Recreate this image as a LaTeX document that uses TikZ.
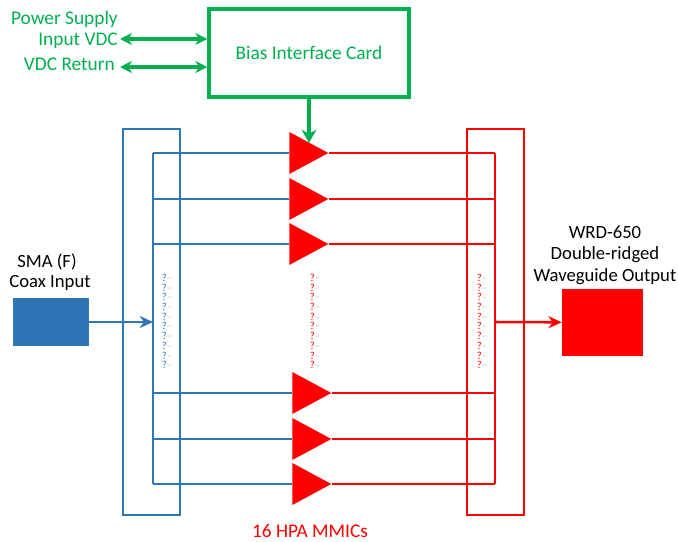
\documentclass[tikz,border=0pt]{standalone}
\usepackage{fontspec}
\setmainfont{Carlito}
\usetikzlibrary{shapes.geometric,arrows.meta}
\definecolor{pagreen}{HTML}{00B050}
\definecolor{pablue}{HTML}{2E75B6}
\tikzset{
  lbl/.style={inner sep=0pt,font=\fontsize{14}{16}\selectfont},
  grn/.style={inner sep=0pt,text=pagreen,font=\fontsize{14.5}{16}\selectfont},
  amp/.style={isosceles triangle,isosceles triangle stretches,shape border rotate=0,fill=red,
    inner sep=0pt,minimum width=31.5pt,minimum height=29.25pt,anchor=apex},
  dots/.style={inner sep=0pt,font=\fontsize{8}{8}\selectfont},
  feed/.style={pablue,line width=1.3pt},
  drive/.style={red,line width=1.3pt},
  pwr/.style={pagreen,line width=2.5pt,{Stealth[length=9pt,width=9pt]}-{Stealth[length=9pt,width=9pt]}}
}
\begin{document}
\begin{tikzpicture}[x=.75pt,y=-.75pt]
\useasboundingbox (0,0) rectangle (678,542);
% bias card
\node (card) at (309,53) [grn,draw=pagreen,line width=2.6pt,minimum width=150pt,minimum height=66pt] {Bias Interface Card};
\node (psu) at (118,19) [grn,anchor=east] {Power Supply};
\node (vdc) at (118,41) [grn,anchor=east] {Input VDC};
\node (ret) at (115,64) [grn,anchor=east] {VDC Return};
\coordinate (vdcend) at (120,39);
\coordinate (retend) at (120,67);
\draw[pwr] (vdcend)--(vdcend-|card.west);
\draw[pwr] (retend)--(retend-|card.west);
% dividers
\node (inbox) at (151.5,322) [draw=pablue,line width=.9pt,minimum width=42.75pt,minimum height=289.5pt,inner sep=0pt] {};
\node (outbox) at (495.5,322) [draw=red,line width=.8pt,minimum width=42.75pt,minimum height=289.5pt,inner sep=0pt] {};
% amplifiers
\foreach \name/\xa/\ya in {a/329/153,b/329/199,c/329/244,d/332/393,e/332/439,f/332/484}{
  \node (\name) at (\xa,\ya) [amp] {};
  \coordinate (in\name) at (153,\ya);
  \coordinate (out\name) at (495,\ya);
  \draw[feed] (in\name)--(\name.lower side);
  \draw[drive] (\name.apex)--(out\name);
}
\draw[feed] (ina)--(inf);
\draw[drive] (outa)--(outf);
\draw[pagreen,line width=3.2pt,-{Stealth[length=10pt,width=11pt]}] (card.south)--(309,143);
% input and output
\node (sma) at (51,322) [fill=pablue,minimum width=57pt,minimum height=36pt,inner sep=0pt] {};
\node (wrd) at (602.5,322.5) [fill=red,minimum width=60.75pt,minimum height=50.25pt,inner sep=0pt] {};
\coordinate (injoin) at (153,322);
\coordinate (outjoin) at (495,322);
\draw[pablue,line width=1.9pt,-{Stealth[length=10pt,width=9pt]}] (sma)--(injoin);
\draw[red,line width=1.9pt,-{Stealth[length=10pt,width=9pt]}] (outjoin)--(wrd);
\node (smal) at (47,262) [lbl] {SMA (F)};
\node (coax) at (50,283) [lbl] {Coax Input};
\node (wrdl) at (605,232) [lbl] {WRD-650};
\node (ridge) at (605,255) [lbl] {Double-ridged};
\node (guide) at (605,277) [lbl] {Waveguide Output};
\node (mmic) at (310,531) [lbl,font=\fontsize{14.5}{16}\selectfont,text=red] {16 HPA MMICs};
% elided rows
\foreach \ya in {278,288,297,307,317,326,336,346,356,365}{
  \node at (167,\ya) [dots] {\textcolor{pablue}{?}\textcolor{black!25}{--}};
  \node at (315,\ya) [dots] {\textcolor{red}{?}\textcolor{black!25}{--}};
  \node at (482,\ya) [dots] {\textcolor{red}{?}\textcolor{black!25}{--}};
}
\end{tikzpicture}
\end{document}
